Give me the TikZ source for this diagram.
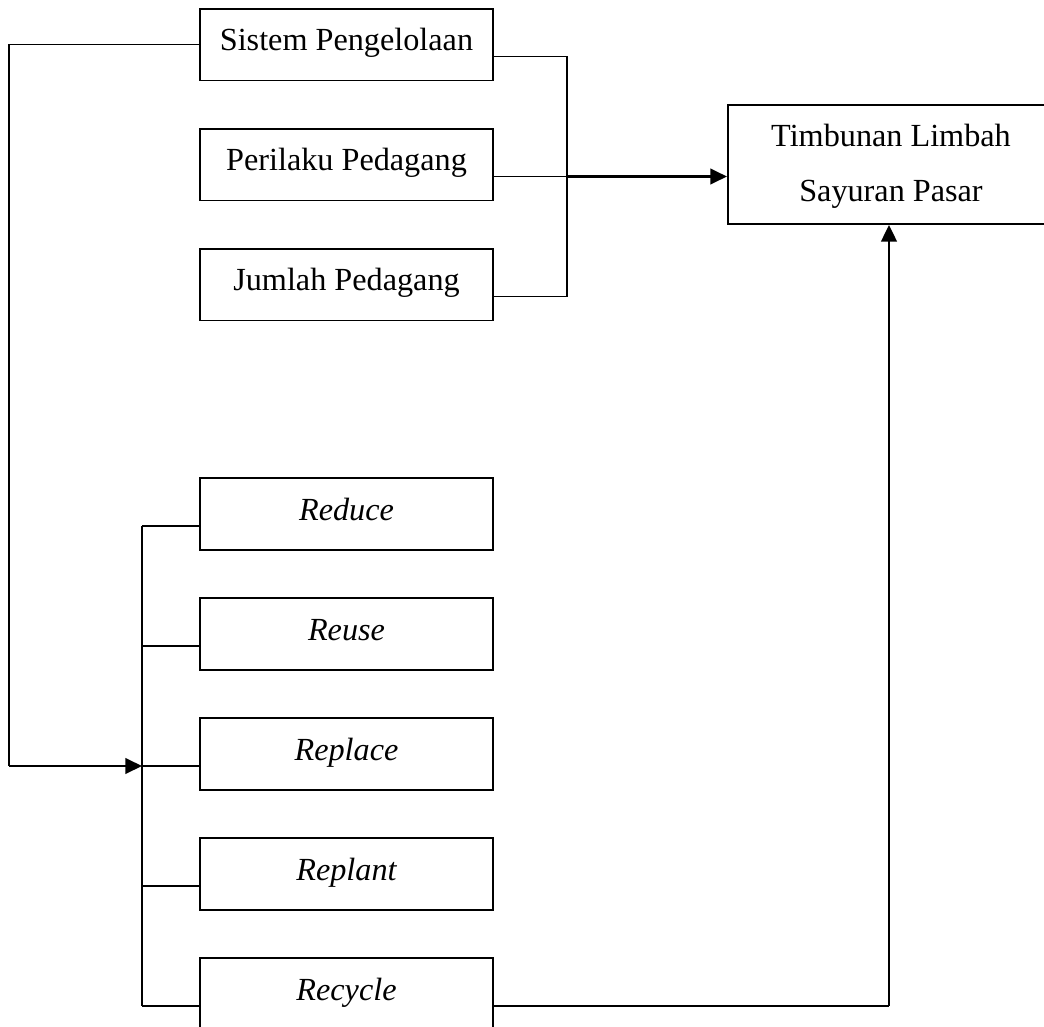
\documentclass[tikz,border=0pt]{standalone}
\usepackage{fontspec}
\setmainfont{Liberation Serif}
\usetikzlibrary{arrows.meta}
\begin{document}
\begin{tikzpicture}[x=0.36pt,y=-0.36pt,
  box/.style={draw,line width=0.7pt,rectangle,inner sep=0pt,
    minimum width=105.5pt,minimum height=25.9pt,
    text height=9pt,text depth=4.4pt,font=\fontsize{11.6}{20}\selectfont},
  ibox/.style={box,font=\fontsize{11.6}{20}\selectfont\itshape},
  txt/.style={anchor=base,inner sep=0pt,font=\fontsize{11.6}{20}\selectfont},
  ln/.style={line width=0.6pt},
  arr/.style={line width=0.9pt,-{Triangle[length=6pt,width=5.6pt]}}]
\useasboundingbox (0,0) rectangle (1044,1027);
% top boxes
\node[box] (sis) at (346.5,44.5) {Sistem Pengelolaan};
\node[box] (per) at (346.5,164.5) {Perilaku Pedagang};
\node[box] (jum) at (346.5,284.5) {Jumlah Pedagang};
% target box
\node[draw,line width=0.7pt,rectangle,inner sep=0pt,minimum width=117.4pt,minimum height=42.8pt] (tim) at (891,164.5) {};
\node[txt] (t1) at (891,146) {Timbunan Limbah};
\node[txt] (t2) at (891,201) {Sayuran Pasar};
% lower boxes
\node[ibox] (red) at (346.5,514) {Reduce};
\node[ibox] (reu) at (346.5,634) {Reuse};
\node[ibox] (rpl) at (346.5,754) {Replace};
\node[ibox] (rpt) at (346.5,874) {Replant};
\node[ibox] (rec) at (346.5,994) {Recycle};
% junction coordinates
\coordinate (b1) at (567,56.5);
\coordinate (b2) at (567,176.5);
\coordinate (b3) at (567,296.5);
\coordinate (l1) at (9,766);
\coordinate (q1) at (142,526);
\coordinate (q2) at (142,646);
\coordinate (q3) at (142,766);
\coordinate (q4) at (142,886);
\coordinate (q5) at (142,1006);
\coordinate (rc) at (889,1006);
% right bus
\draw[ln] (sis.east |- b1) -- (b1) -- (b3) -- (jum.east |- b3);
\draw[ln] (per.east |- b2) -- (b2);
\draw[arr] (b2) -- (tim.west |- b2);
% left feed
\draw[ln] (sis.west) -| (l1);
\draw[arr] (l1) -- (q3);
% lower bus
\draw[ln] (q1) -- (q5);
\draw[ln] (q1) -- (red.west |- q1);
\draw[ln] (q2) -- (reu.west |- q2);
\draw[ln] (q3) -- (rpl.west |- q3);
\draw[ln] (q4) -- (rpt.west |- q4);
\draw[ln] (q5) -- (rec.west |- q5);
% recycle to target
\draw[ln] (rec.east |- rc) -- (rc);
\draw[arr] (rc) -- (tim.south -| rc);
\end{tikzpicture}
\end{document}
